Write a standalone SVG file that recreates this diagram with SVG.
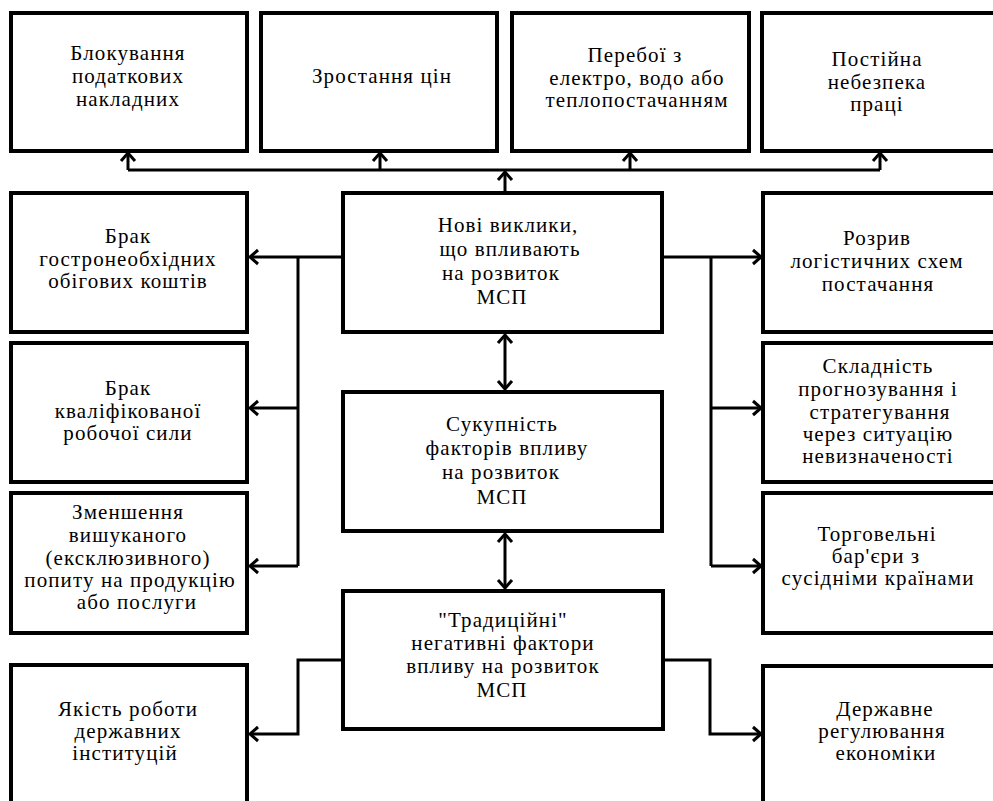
<svg xmlns="http://www.w3.org/2000/svg" width="993" height="801" viewBox="0 0 993 801" font-family="Liberation Serif, Times New Roman, serif">
<defs>
<style>
.box{fill:#fff;stroke:#000;stroke-width:4}
.t{font-size:21px;letter-spacing:1.1px;fill:#000;text-anchor:middle}
.c{fill:none;stroke:#000;stroke-width:3}
.a{marker-end:url(#ah)}
.d{marker-start:url(#ahs);marker-end:url(#ah)}
</style>
<marker id="ah" markerUnits="userSpaceOnUse" markerWidth="12" markerHeight="18" viewBox="0 0 12 18" refX="10" refY="9" orient="auto" overflow="visible">
<path d="M2,2 L10,9 L2,16" fill="none" stroke="#000" stroke-width="3"/>
</marker>
<marker id="ahs" markerUnits="userSpaceOnUse" markerWidth="12" markerHeight="18" viewBox="0 0 12 18" refX="2" refY="9" orient="auto" overflow="visible">
<path d="M10,2 L2,9 L10,16" fill="none" stroke="#000" stroke-width="3"/>
</marker>
</defs>
<rect width="993" height="801" fill="#fff"/>
<g id="connectors">
<path class="c a" d="M505,193 L505,172"/>
<path class="c" d="M128,170 L880,170"/>
<path class="c a" d="M128,170 L128,153"/>
<path class="c a" d="M380,170 L380,153"/>
<path class="c a" d="M630,170 L630,153"/>
<path class="c a" d="M880,170 L880,153"/>
<path class="c d" d="M505,335 L505,389"/>
<path class="c d" d="M505,534 L505,588"/>
<path class="c a" d="M343,257 L250,257"/>
<path class="c" d="M298,257 L298,566"/>
<path class="c a" d="M298,408 L250,408"/>
<path class="c a" d="M298,566 L250,566"/>
<path class="c a" d="M343,660 L298,660 L298,734 L250,734"/>
<path class="c a" d="M662,257 L761,257"/>
<path class="c" d="M711,257 L711,566"/>
<path class="c a" d="M711,408 L761,408"/>
<path class="c a" d="M711,566 L761,566"/>
<path class="c a" d="M663,660 L710,660 L710,734 L761,734"/>
</g>
<g id="n1"><rect class="box" x="11" y="13" width="236" height="138"/>
<text class="t" x="128" y="60">Блокування</text><text class="t" x="128" y="83">податкових</text><text class="t" x="128" y="106">накладних</text></g>
<g id="n2"><rect class="box" x="261" y="13" width="236" height="138"/>
<text class="t" x="382" y="83">Зростання цін</text></g>
<g id="n3"><rect class="box" x="512" y="13" width="237" height="138"/>
<text class="t" x="635" y="62">Перебої з</text><text class="t" x="637" y="84.5">електро, водо або</text><text class="t" x="637" y="107">теплопостачанням</text></g>
<g id="n4"><rect class="box" x="762" y="13" width="240" height="138"/>
<text class="t" x="877" y="66">Постійна</text><text class="t" x="877" y="89">небезпека</text><text class="t" x="877" y="111">праці</text></g>
<g id="n5"><rect class="box" x="11" y="193" width="236" height="139"/>
<text class="t" x="128" y="243">Брак</text><text class="t" x="128" y="266">гостронеобхідних</text><text class="t" x="128" y="288">обігових коштів</text></g>
<g id="n6"><rect class="box" x="11" y="343" width="236" height="139"/>
<text class="t" x="128" y="395">Брак</text><text class="t" x="128" y="418">кваліфікованої</text><text class="t" x="128" y="440">робочої сили</text></g>
<g id="n7"><rect class="box" x="11" y="493" width="236" height="140"/>
<text class="t" x="128" y="519">Зменшення</text><text class="t" x="128" y="542">вишуканого</text><text class="t" x="128" y="565">(ексклюзивного)</text><text class="t" x="130" y="587">попиту на продукцію</text><text class="t" x="137" y="609">або послуги</text></g>
<g id="n8"><rect class="box" x="11" y="665" width="236" height="150"/>
<text class="t" x="128" y="716">Якість роботи</text><text class="t" x="128" y="738">державних</text><text class="t" x="125" y="760">інституцій</text></g>
<g id="n9"><rect class="box" x="343" y="193" width="319" height="139"/>
<text class="t" x="508" y="232">Нові виклики,</text><text class="t" x="510" y="256">що впливають</text><text class="t" x="501" y="280">на розвиток</text><text class="t" x="502" y="304">МСП</text></g>
<g id="n10"><rect class="box" x="343" y="392" width="319" height="139"/>
<text class="t" x="502" y="431">Сукупність</text><text class="t" x="507" y="455">факторів впливу</text><text class="t" x="501" y="479">на розвиток</text><text class="t" x="502" y="504">МСП</text></g>
<g id="n11"><rect class="box" x="343" y="591" width="320" height="138"/>
<text class="t" x="503" y="627">"Традиційні"</text><text class="t" x="503" y="650">негативні фактори</text><text class="t" x="503" y="673">впливу на розвиток</text><text class="t" x="502" y="697">МСП</text></g>
<g id="n12"><rect class="box" x="763" y="193" width="240" height="139"/>
<text class="t" x="877" y="245">Розрив</text><text class="t" x="877" y="268">логістичних схем</text><text class="t" x="878" y="291">постачання</text></g>
<g id="n13"><rect class="box" x="763" y="343" width="240" height="139"/>
<text class="t" x="878" y="373">Складність</text><text class="t" x="878" y="396">прогнозування і</text><text class="t" x="880" y="419">стратегування</text><text class="t" x="878" y="441">через ситуацію</text><text class="t" x="878" y="463">невизначеності</text></g>
<g id="n14"><rect class="box" x="763" y="493" width="240" height="140"/>
<text class="t" x="877" y="541">Торговельні</text><text class="t" x="876" y="563">бар'єри з</text><text class="t" x="878" y="585">сусідніми країнами</text></g>
<g id="n15"><rect class="box" x="763" y="666" width="240" height="150"/>
<text class="t" x="885" y="716">Державне</text><text class="t" x="882" y="738">регулювання</text><text class="t" x="886" y="760">економіки</text></g>
</svg>
